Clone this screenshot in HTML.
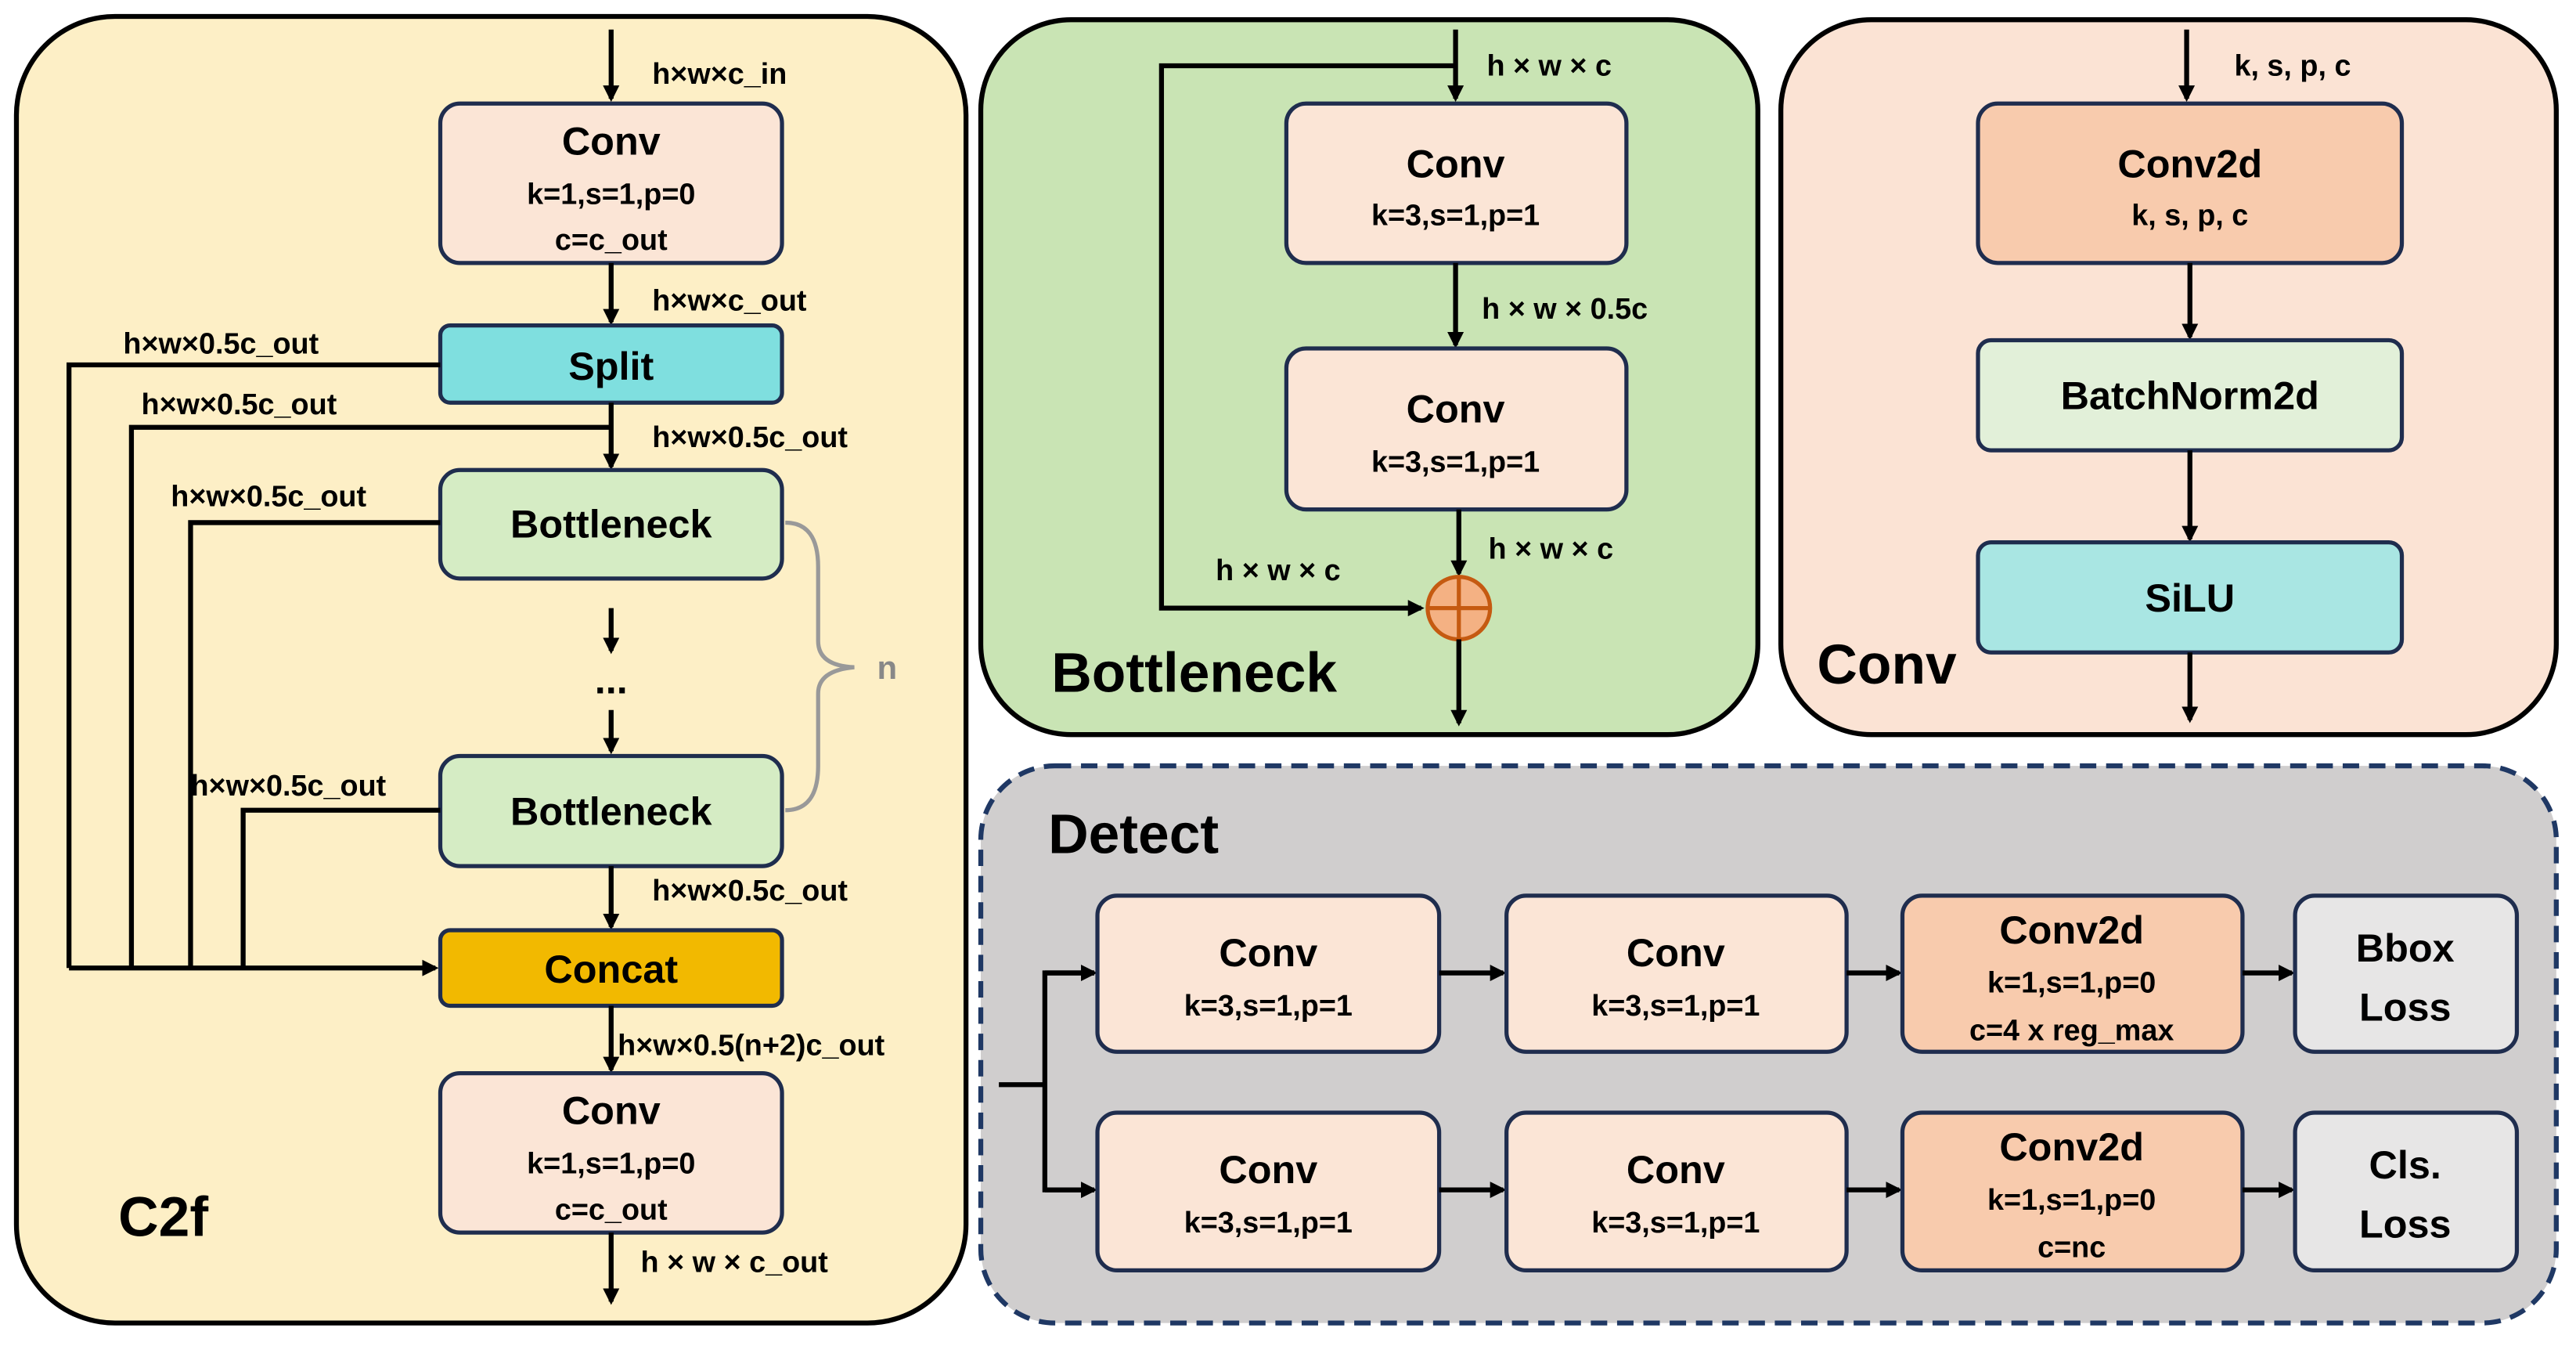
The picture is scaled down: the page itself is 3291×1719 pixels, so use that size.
<!DOCTYPE html>
<html><head><meta charset="utf-8"><style>
html,body{margin:0;padding:0;background:#fff;}
svg{display:block}
text{font-family:"Liberation Sans",sans-serif;font-weight:bold;fill:#000}
.t{font-size:24px;text-anchor:middle}
.s{font-size:18px;text-anchor:middle}
.l{font-size:18px}
.b{font-size:34px}
.bx{stroke:#1f2d4e;stroke-width:2.5}
.ln{stroke:#000;stroke-width:3;fill:none}
</style></head><body>
<svg width="3291" height="1719" viewBox="0 0 1568 819" xmlns="http://www.w3.org/2000/svg">
<defs><marker id="a" markerWidth="10" markerHeight="10" refX="8" refY="5" orient="auto" markerUnits="userSpaceOnUse"><path d="M0,0 L10,5 L0,10 z" fill="#000"/></marker></defs>
<!-- panels -->
<rect x="10" y="10" width="578" height="795" rx="60" fill="#fdefc6" stroke="#000" stroke-width="3"/>
<rect x="597" y="12" width="473" height="435" rx="55" fill="#c9e4b4" stroke="#000" stroke-width="3"/>
<rect x="1084" y="12" width="472" height="435" rx="55" fill="#fbe3d4" stroke="#000" stroke-width="3"/>
<rect x="597" y="466" width="959" height="339" rx="45" fill="#d0cece" stroke="#1f3864" stroke-width="3" stroke-dasharray="10,6"/>

<!-- C2f -->
<line class="ln" x1="372" y1="18" x2="372" y2="60" marker-end="url(#a)"/>
<text class="l" x="397" y="51">h×w×c_in</text>
<rect class="bx" x="268" y="63" width="208" height="97" rx="12" fill="#fbe5d6"/>
<text class="t" x="372" y="94">Conv</text><text class="s" x="372" y="124">k=1,s=1,p=0</text><text class="s" x="372" y="152">c=c_out</text>
<line class="ln" x1="372" y1="160" x2="372" y2="196" marker-end="url(#a)"/>
<text class="l" x="397" y="189">h×w×c_out</text>
<rect class="bx" x="268" y="198" width="208" height="47" rx="6" fill="#7fdfdf"/>
<text class="t" x="372" y="231">Split</text>
<line class="ln" x1="372" y1="245" x2="372" y2="284" marker-end="url(#a)"/>
<text class="l" x="397" y="272">h×w×0.5c_out</text>
<polyline class="ln" points="268,222 42,222 42,589"/>
<text class="l" x="75" y="215">h×w×0.5c_out</text>
<polyline class="ln" points="372,260 80,260 80,589"/>
<text class="l" x="86" y="252">h×w×0.5c_out</text>
<rect class="bx" x="268" y="286" width="208" height="66" rx="12" fill="#d5ecc4"/>
<text class="t" x="372" y="327">Bottleneck</text>
<polyline class="ln" points="268,318 116,318 116,589"/>
<text class="l" x="104" y="308">h×w×0.5c_out</text>
<line class="ln" x1="372" y1="370" x2="372" y2="396" marker-end="url(#a)"/>
<text class="t" x="372" y="422">...</text>
<line class="ln" x1="372" y1="432" x2="372" y2="457" marker-end="url(#a)"/>
<rect class="bx" x="268" y="460" width="208" height="67" rx="12" fill="#d5ecc4"/>
<text class="t" x="372" y="502">Bottleneck</text>
<polyline class="ln" points="268,493 148,493 148,589"/>
<text class="l" x="116" y="484">h×w×0.5c_out</text>
<path d="M478,318 Q498,318 498,345 L498,390 Q498,405 520,406 Q498,408 498,422 L498,466 Q498,493 478,493" fill="none" stroke="#999" stroke-width="2.5"/>
<text class="t" x="540" y="413" style="fill:#888;font-size:20px">n</text>
<line class="ln" x1="42" y1="589" x2="265" y2="589" marker-end="url(#a)"/>
<line class="ln" x1="372" y1="527" x2="372" y2="564" marker-end="url(#a)"/>
<text class="l" x="397" y="548">h×w×0.5c_out</text>
<rect class="bx" x="268" y="566" width="208" height="46" rx="6" fill="#f2b900"/>
<text class="t" x="372" y="598">Concat</text>
<line class="ln" x1="372" y1="612" x2="372" y2="651" marker-end="url(#a)"/>
<text class="l" x="376" y="642">h×w×0.5(n+2)c_out</text>
<rect class="bx" x="268" y="653" width="208" height="97" rx="12" fill="#fbe5d6"/>
<text class="t" x="372" y="684">Conv</text><text class="s" x="372" y="714">k=1,s=1,p=0</text><text class="s" x="372" y="742">c=c_out</text>
<line class="ln" x1="372" y1="750" x2="372" y2="792" marker-end="url(#a)"/>
<text class="l" x="390" y="774">h × w × c_out</text>
<text class="b" x="72" y="752">C2f</text>

<!-- Bottleneck -->
<line class="ln" x1="886" y1="18" x2="886" y2="60" marker-end="url(#a)"/>
<text class="l" x="905" y="46">h × w × c</text>
<polyline class="ln" points="886,40 707,40 707,370 865,370" marker-end="url(#a)"/>
<rect class="bx" x="783" y="63" width="207" height="97" rx="12" fill="#fbe5d6"/>
<text class="t" x="886" y="108">Conv</text><text class="s" x="886" y="137">k=3,s=1,p=1</text>
<line class="ln" x1="886" y1="160" x2="886" y2="210" marker-end="url(#a)"/>
<text class="l" x="902" y="194">h × w × 0.5c</text>
<rect class="bx" x="783" y="212" width="207" height="98" rx="12" fill="#fbe5d6"/>
<text class="t" x="886" y="257">Conv</text><text class="s" x="886" y="287">k=3,s=1,p=1</text>
<line class="ln" x1="888" y1="310" x2="888" y2="349" marker-end="url(#a)"/>
<text class="l" x="906" y="340">h × w × c</text>
<text class="l" x="740" y="353">h × w × c</text>
<circle cx="888" cy="370" r="19" fill="#f4b183" stroke="#c55a11" stroke-width="2.5"/>
<line x1="869" y1="370" x2="907" y2="370" stroke="#c55a11" stroke-width="2.5"/>
<line x1="888" y1="351" x2="888" y2="389" stroke="#c55a11" stroke-width="2.5"/>
<line class="ln" x1="888" y1="389" x2="888" y2="440" marker-end="url(#a)"/>
<text class="b" x="640" y="421">Bottleneck</text>

<!-- Conv -->
<line class="ln" x1="1331" y1="18" x2="1331" y2="60" marker-end="url(#a)"/>
<text class="l" x="1360" y="46">k, s, p, c</text>
<rect class="bx" x="1204" y="63" width="258" height="97" rx="12" fill="#f8cbad"/>
<text class="t" x="1333" y="108">Conv2d</text><text class="s" x="1333" y="137">k, s, p, c</text>
<line class="ln" x1="1333" y1="160" x2="1333" y2="205" marker-end="url(#a)"/>
<rect class="bx" x="1204" y="207" width="258" height="67" rx="8" fill="#e2f0d9"/>
<text class="t" x="1333" y="249">BatchNorm2d</text>
<line class="ln" x1="1333" y1="274" x2="1333" y2="328" marker-end="url(#a)"/>
<rect class="bx" x="1204" y="330" width="258" height="67" rx="8" fill="#a9e6e3"/>
<text class="t" x="1333" y="372">SiLU</text>
<line class="ln" x1="1333" y1="397" x2="1333" y2="438" marker-end="url(#a)"/>
<text class="b" x="1106" y="416">Conv</text>

<!-- Detect -->
<text class="b" x="638" y="519">Detect</text>
<line class="ln" x1="608" y1="660" x2="637" y2="660"/>
<polyline class="ln" points="666,592 636,592 636,724 666,724"/>
<line class="ln" x1="636" y1="592" x2="666" y2="592" marker-end="url(#a)"/>
<line class="ln" x1="636" y1="724" x2="666" y2="724" marker-end="url(#a)"/>
<rect class="bx" x="668" y="545" width="208" height="95" rx="12" fill="#fbe5d6"/>
<text class="t" x="772" y="588">Conv</text><text class="s" x="772" y="618">k=3,s=1,p=1</text>
<line class="ln" x1="876" y1="592" x2="915" y2="592" marker-end="url(#a)"/>
<rect class="bx" x="917" y="545" width="207" height="95" rx="12" fill="#fbe5d6"/>
<text class="t" x="1020" y="588">Conv</text><text class="s" x="1020" y="618">k=3,s=1,p=1</text>
<line class="ln" x1="1124" y1="592" x2="1156" y2="592" marker-end="url(#a)"/>
<rect class="bx" x="1158" y="545" width="207" height="95" rx="12" fill="#f8cbad"/>
<text class="t" x="1261" y="574">Conv2d</text><text class="s" x="1261" y="604">k=1,s=1,p=0</text><text class="s" x="1261" y="633">c=4 x reg_max</text>
<line class="ln" x1="1365" y1="592" x2="1395" y2="592" marker-end="url(#a)"/>
<rect class="bx" x="1397" y="545" width="135" height="95" rx="12" fill="#e7e6e6"/>
<text class="t" x="1464" y="585">Bbox</text><text class="t" x="1464" y="621">Loss</text>

<rect class="bx" x="668" y="677" width="208" height="96" rx="12" fill="#fbe5d6"/>
<text class="t" x="772" y="720">Conv</text><text class="s" x="772" y="750">k=3,s=1,p=1</text>
<line class="ln" x1="876" y1="724" x2="915" y2="724" marker-end="url(#a)"/>
<rect class="bx" x="917" y="677" width="207" height="96" rx="12" fill="#fbe5d6"/>
<text class="t" x="1020" y="720">Conv</text><text class="s" x="1020" y="750">k=3,s=1,p=1</text>
<line class="ln" x1="1124" y1="724" x2="1156" y2="724" marker-end="url(#a)"/>
<rect class="bx" x="1158" y="677" width="207" height="96" rx="12" fill="#f8cbad"/>
<text class="t" x="1261" y="706">Conv2d</text><text class="s" x="1261" y="736">k=1,s=1,p=0</text><text class="s" x="1261" y="765">c=nc</text>
<line class="ln" x1="1365" y1="724" x2="1395" y2="724" marker-end="url(#a)"/>
<rect class="bx" x="1397" y="677" width="135" height="96" rx="12" fill="#e7e6e6"/>
<text class="t" x="1464" y="717">Cls.</text><text class="t" x="1464" y="753">Loss</text>
</svg>
</body></html>
